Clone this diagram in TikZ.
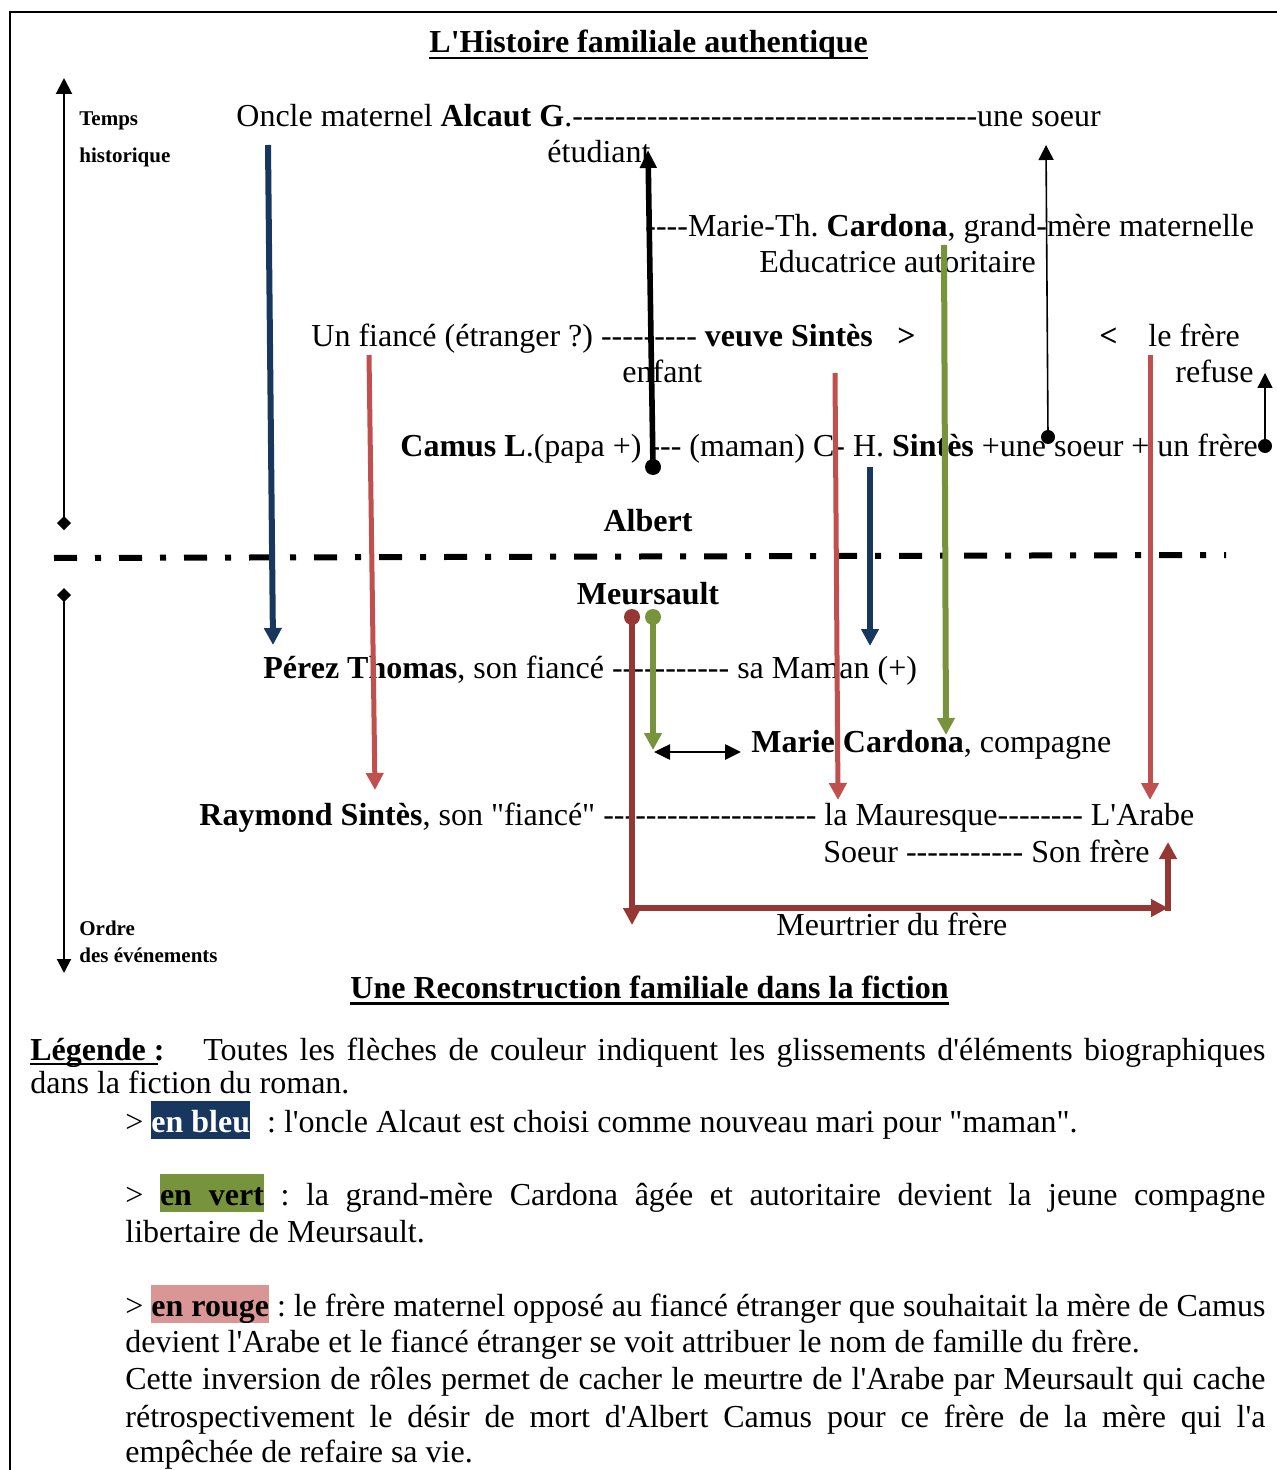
\documentclass[tikz,border=0pt]{standalone}
\usepackage{fontspec}
\setmainfont{Liberation Serif}[Ligatures=TeXOff]
\usetikzlibrary{arrows.meta,calc}
\definecolor{cblue}{HTML}{17375E}
\definecolor{cgreen}{HTML}{77933C}
\definecolor{cred}{HTML}{C0504D}
\definecolor{cdred}{HTML}{953735}
\definecolor{cpink}{HTML}{D99694}
\setlength{\fboxsep}{0pt}
\frenchspacing
\newcommand\hlbox[3]{\colorbox{#1}{\rule[-3.5pt]{0pt}{19pt}\textcolor{#2}{\textbf{#3}}}}
\tikzset{
  txt/.style={anchor=base west, inner sep=0pt, font=\fontsize{16}{19}\selectfont},
  txtb/.style={txt, font=\fontsize{16}{19}\selectfont\bfseries},
  txtc/.style={anchor=base, inner sep=0pt, font=\fontsize{16}{19}\selectfont\bfseries},
  small/.style={anchor=base west, inner sep=0pt, font=\fontsize{10.5}{12}\selectfont\bfseries},
  thickarr/.style={line width=3pt, -{Triangle[length=8.5pt,width=8.5pt]}},
  redarr/.style={line width=2.5pt, color=cred, -{Triangle[length=8.5pt,width=8.5pt]}},
  thinarr/.style={line width=0.8pt, -{Triangle[length=7.5pt,width=7.5pt]}},
}
\begin{document}
\begin{tikzpicture}[x=0.5pt,y=-0.5pt]
\useasboundingbox (0,0) rectangle (1276,1470);
\coordinate (frameA) at (10,1480);
\coordinate (frameB) at (10,12);
\coordinate (frameC) at (1290,12);
\draw[line width=1pt] (frameA) -- (frameB) -- (frameC);

% ---------- texts ----------
\node[txtb] (t1) at (429,53) {L'Histoire familiale authentique};
\draw[line width=1.3pt] ($(t1.base west)+(0,5)$) -- ($(t1.base east)+(0,5)$);

\node[small] (temps) at (79,126) {Temps};
\node[small] (hist) at (79,163) {historique};
\node[small] (ordre) at (79,935) {Ordre};
\node[small] (desev) at (79,962) {des événements};

\node[txt] (oncle) at (236,127) {Oncle maternel \textbf{Alcaut G}.--------------------------------------une soeur};
\node[txt] (etud) at (547,163) {étudiant};
\node[txt] (marieth) at (645,237) {----Marie-Th. \textbf{Cardona}, grand-mère maternelle};
\node[txt] (educ) at (759,273) {Educatrice autoritaire};
\node[txt] (fiance) at (311,347) {Un fiancé (étranger ?) --------- \textbf{veuve Sintès}};
\node[txtb] (gt) at (897,347) {>};
\node[txtb] (lt) at (1099,347) {<};
\node[txt] (frere) at (1148,347) {le frère};
\node[txt] (enfant) at (622,383) {enfant};
\node[txt] (refuse) at (1175,383) {refuse};
\node[txt] (camus) at (400,457) {\textbf{Camus L}.(papa +) --- (maman) C- H. \textbf{Sintès} +une soeur + un frère};
\node[txtc] (albert) at (648,531) {Albert};
\node[txtc] (meursault) at (648,604) {Meursault};
\node[txt] (perez) at (263,678) {\textbf{Pérez Thomas}, son fiancé ----------- sa Maman (+)};
\node[txt] (mariec) at (751,752) {\textbf{Marie Cardona}, compagne};
\node[txt] (raymond) at (199,825) {\textbf{Raymond Sintès}, son "fiancé" -------------------- la Mauresque-------- L'Arabe};
\node[txt] (soeur) at (823,862) {Soeur ----------- Son frère};
\node[txt] (meurtrier) at (776,935) {Meurtrier du frère};

\node[txtb] (t2) at (350,998) {Une Reconstruction familiale dans la fiction};
\draw[line width=1.5pt] ($(t2.base west)+(0,5)$) -- ($(t2.base east)+(0,5)$);

% ---------- legend ----------
\node[txtb] (leg) at (30,1060) {Légende :};
\draw[line width=1.4pt] ($(leg.base west)+(0,4)$) -- ($(leg.base east)+(-7,4)$);
\node[txt] (leg1) at (203,1060) {\makebox[531pt][s]{Toutes les flèches de couleur indiquent les glissements d'éléments biographiques}};
\node[txt] (leg2) at (30,1093) {dans la fiction du roman.};
\node[txt] (lbleu) at (125,1132) {> \hlbox{cblue}{white}{en bleu}\hspace{8.5pt}: l'oncle Alcaut est choisi comme nouveau mari pour "maman".};
\node[txt] (lvert) at (125,1205) {\makebox[570pt][s]{> \hlbox{cgreen}{black}{\makebox[52pt][s]{en vert}} : la grand-mère Cardona âgée et autoritaire devient la jeune compagne}};
\node[txt] (lvert2) at (125,1242) {libertaire de Meursault.};
\node[txt] (lrouge) at (125,1316) {\makebox[570pt][s]{> \hlbox{cpink}{black}{en rouge} : le frère maternel opposé au fiancé étranger que souhaitait la mère de Camus}};
\node[txt] (lr2) at (125,1352) {devient l'Arabe et le fiancé étranger se voit attribuer le nom de famille du frère.};
\node[txt] (lr3) at (125,1389) {\makebox[570pt][s]{Cette inversion de rôles permet de cacher le meurtre de l'Arabe par Meursault qui cache}};
\node[txt] (lr4) at (125,1427) {\makebox[570pt][s]{rétrospectivement le désir de mort d'Albert Camus pour ce frère de la mère qui l'a}};
\node[txt] (lr5) at (125,1462) {empêchée de refaire sa vie.};

% ---------- time axis ----------
\coordinate (ta1) at (64,530);
\coordinate (ta2) at (64,78);
\draw[line width=1pt, {Diamond[length=7pt,width=7pt]}-{Triangle[length=8pt,width=8pt]}] (ta1) -- (ta2);
\coordinate (tb1) at (64,588);
\coordinate (tb2) at (64,973);
\draw[line width=1pt, {Diamond[length=7pt,width=7pt]}-{Triangle[length=7pt,width=7pt]}] (tb1) -- (tb2);

% ---------- separator ----------
\coordinate (dd1) at (54,558);
\coordinate (dd2) at (1226,555);
\draw[line width=3pt, dash pattern=on 11.5pt off 9pt on 3pt off 9pt] (dd1) -- (dd2);

% ---------- black arrows ----------
\coordinate (ks) at (653,467);
\coordinate (ke) at (648,150);
\fill (ks) circle (4pt);
\draw[line width=2.8pt, -{Triangle[length=9pt,width=8pt]}] (ks) -- (ke);

\coordinate (ns) at (1048,437);
\coordinate (ne) at (1046,145);
\fill (ns) circle (3.5pt);
\draw[thinarr] (ns) -- (ne);

\coordinate (ss) at (1265,446);
\coordinate (se) at (1265,373);
\fill (ss) circle (3.5pt);
\draw[thinarr] (ss) -- (se);

% ---------- blue ----------
\coordinate (b1s) at (268,145);
\coordinate (b1e) at (273,645);
\draw[thickarr, color=cblue] (b1s) -- (b1e);
\coordinate (b2s) at (870,467);
\coordinate (b2e) at (870,646);
\draw[thickarr, color=cblue] (b2s) -- (b2e);

% ---------- green ----------
\coordinate (g1s) at (944,245);
\coordinate (g1e) at (946,735);
\draw[thickarr, color=cgreen] (g1s) -- (g1e);
\coordinate (g2s) at (653,617);
\coordinate (g2e) at (653,750);
\fill[cgreen] (g2s) circle (4pt);
\draw[thickarr, color=cgreen] (g2s) -- (g2e);

% ---------- double arrow ----------
\coordinate (da1) at (654,752);
\coordinate (da2) at (741,752);
\draw[line width=1.3pt, {Triangle[length=8pt,width=7.5pt]}-{Triangle[length=8pt,width=7.5pt]}] (da1) -- (da2);

% ---------- light red ----------
\coordinate (r1s) at (369,355);
\coordinate (r1e) at (375,790);
\draw[redarr] (r1s) -- (r1e);
\coordinate (r2s) at (835,373);
\coordinate (r2e) at (838,800);
\draw[redarr] (r2s) -- (r2e);
\coordinate (r3s) at (1150,355);
\coordinate (r3e) at (1150,800);
\draw[redarr] (r3s) -- (r3e);

% ---------- dark red ----------
\coordinate (dr1) at (632,617);
\coordinate (dr2) at (632,925);
\coordinate (dr3) at (632,908);
\coordinate (dr4) at (1168,908);
\coordinate (dr4b) at (1168,911);
\coordinate (dr5) at (1168,842);
\fill[cdred] (dr1) circle (4pt);
\draw[thickarr, color=cdred] (dr1) -- (dr2);
\draw[thickarr, color=cdred] (dr3) -- (dr4);
\draw[thickarr, color=cdred] (dr4b) -- (dr5);
\end{tikzpicture}
\end{document}
